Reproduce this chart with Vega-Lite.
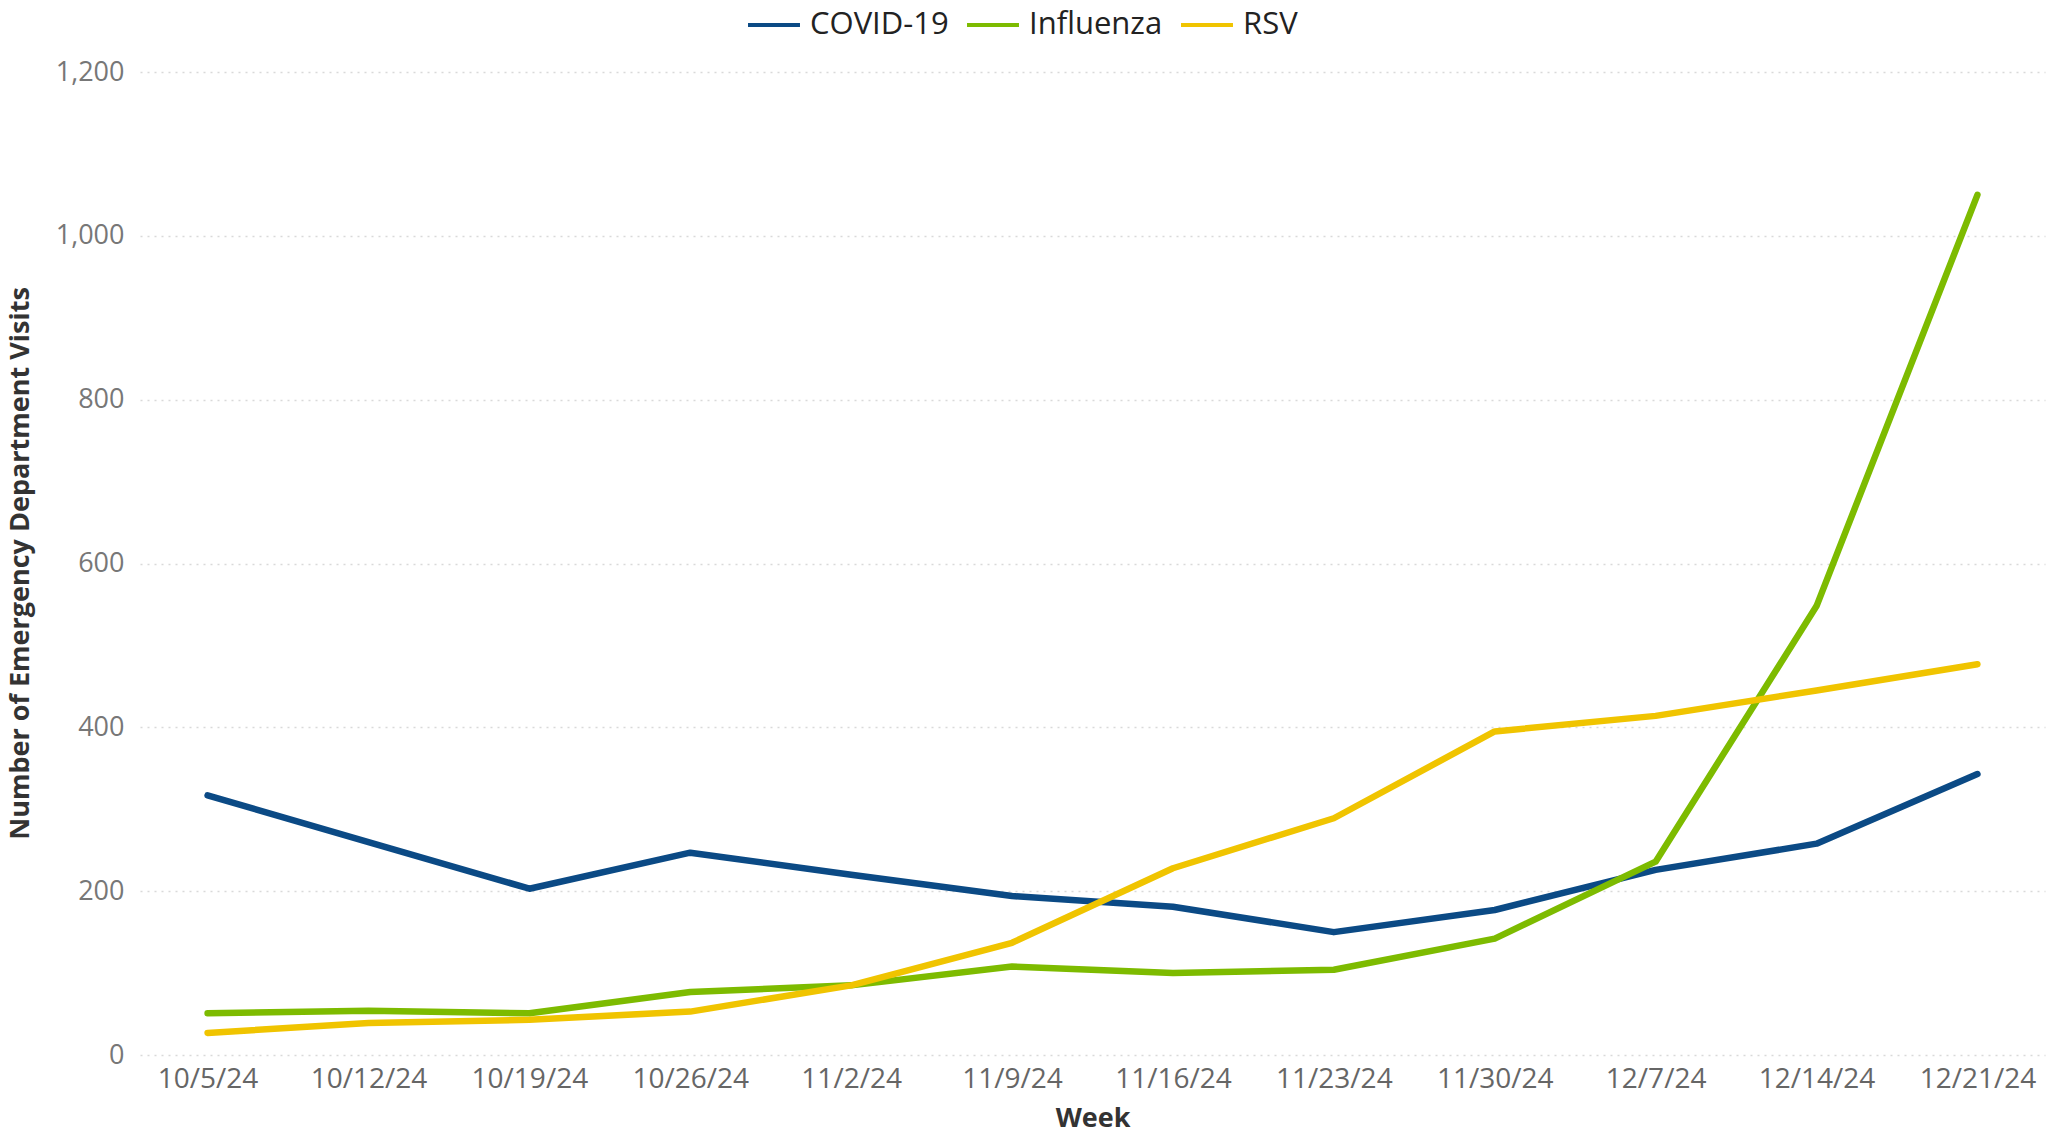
{
  "$schema": "https://vega.github.io/schema/vega-lite/v6.json",
  "width": 1905,
  "height": 983,
  "autosize": {"type": "none"},
  "padding": {"left": 140, "top": 72, "right": 8, "bottom": 81},
  "background": "white",
  "config": {
    "view": {"stroke": null},
    "font": "Open Sans"
  },
  "data": {
    "values": [
      {"week": "10/5/24", "series": "COVID-19", "visits": 317},
      {"week": "10/12/24", "series": "COVID-19", "visits": 260},
      {"week": "10/19/24", "series": "COVID-19", "visits": 203},
      {"week": "10/26/24", "series": "COVID-19", "visits": 247},
      {"week": "11/2/24", "series": "COVID-19", "visits": 220},
      {"week": "11/9/24", "series": "COVID-19", "visits": 194},
      {"week": "11/16/24", "series": "COVID-19", "visits": 181},
      {"week": "11/23/24", "series": "COVID-19", "visits": 150},
      {"week": "11/30/24", "series": "COVID-19", "visits": 177},
      {"week": "12/7/24", "series": "COVID-19", "visits": 226},
      {"week": "12/14/24", "series": "COVID-19", "visits": 258},
      {"week": "12/21/24", "series": "COVID-19", "visits": 343},
      {"week": "10/5/24", "series": "Influenza", "visits": 51},
      {"week": "10/12/24", "series": "Influenza", "visits": 54},
      {"week": "10/19/24", "series": "Influenza", "visits": 51},
      {"week": "10/26/24", "series": "Influenza", "visits": 77},
      {"week": "11/2/24", "series": "Influenza", "visits": 85},
      {"week": "11/9/24", "series": "Influenza", "visits": 108},
      {"week": "11/16/24", "series": "Influenza", "visits": 100},
      {"week": "11/23/24", "series": "Influenza", "visits": 104},
      {"week": "11/30/24", "series": "Influenza", "visits": 142},
      {"week": "12/7/24", "series": "Influenza", "visits": 236},
      {"week": "12/14/24", "series": "Influenza", "visits": 548},
      {"week": "12/21/24", "series": "Influenza", "visits": 1050},
      {"week": "10/5/24", "series": "RSV", "visits": 27},
      {"week": "10/12/24", "series": "RSV", "visits": 39},
      {"week": "10/19/24", "series": "RSV", "visits": 43},
      {"week": "10/26/24", "series": "RSV", "visits": 53},
      {"week": "11/2/24", "series": "RSV", "visits": 85},
      {"week": "11/9/24", "series": "RSV", "visits": 137},
      {"week": "11/16/24", "series": "RSV", "visits": 228},
      {"week": "11/23/24", "series": "RSV", "visits": 289},
      {"week": "11/30/24", "series": "RSV", "visits": 395},
      {"week": "12/7/24", "series": "RSV", "visits": 414},
      {"week": "12/14/24", "series": "RSV", "visits": 445},
      {"week": "12/21/24", "series": "RSV", "visits": 477}
    ]
  },
  "mark": {"type": "line", "strokeWidth": 6.5, "strokeCap": "round", "strokeJoin": "round"},
  "encoding": {
    "x": {
      "field": "week",
      "type": "ordinal",
      "sort": ["10/5/24","10/12/24","10/19/24","10/26/24","11/2/24","11/9/24","11/16/24","11/23/24","11/30/24","12/7/24","12/14/24","12/21/24"],
      "scale": {"type": "point", "padding": 0.42},
      "axis": {
        "title": "Week",
        "titleFont": "Open Sans",
        "titleFontWeight": "bold",
        "titleFontSize": 27,
        "titleColor": "#333333",
        "titleY": 63,
        "titleBaseline": "middle",
        "labelFont": "Open Sans",
        "labelFontSize": 28,
        "labelColor": "#666666",
        "labelAngle": 0,
        "labelPadding": 10,
        "ticks": false,
        "domain": false,
        "grid": false
      }
    },
    "y": {
      "field": "visits",
      "type": "quantitative",
      "scale": {"domain": [0, 1200], "nice": false},
      "axis": {
        "title": "Number of Emergency Department Visits",
        "titleFont": "Open Sans",
        "titleFontWeight": "bold",
        "titleFontSize": 27,
        "titleColor": "#333333",
        "titleAngle": 270,
        "titleX": -120,
        "titleY": 491,
        "titleBaseline": "middle",
        "titleAlign": "center",
        "values": [0, 200, 400, 600, 800, 1000, 1200],
        "format": ",d",
        "labelFont": "Open Sans",
        "labelFontSize": 27,
        "labelColor": "#777777",
        "labelPadding": 16,
        "ticks": false,
        "domain": false,
        "grid": true,
        "gridColor": "#d9d9d9",
        "gridDash": [2, 5],
        "gridWidth": 1.5
      }
    },
    "color": {
      "field": "series",
      "type": "nominal",
      "scale": {
        "domain": ["COVID-19", "Influenza", "RSV"],
        "range": ["#0b4a85", "#7dbb00", "#f0c400"]
      },
      "legend": {
        "title": null,
        "orient": "none",
        "direction": "horizontal",
        "legendX": 606,
        "legendY": -75,
        "symbolType": "stroke",
        "symbolSize": 2700,
        "symbolStrokeWidth": 4,
        "labelFont": "Open Sans",
        "labelFontSize": 31,
        "labelColor": "#222222",
        "labelOffset": 8,
        "columnPadding": 10
      }
    }
  }
}
